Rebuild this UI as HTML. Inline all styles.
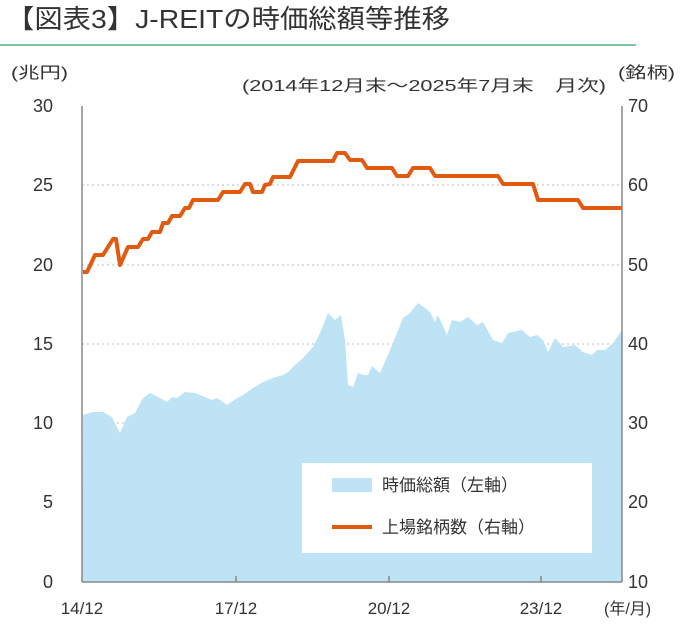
<!DOCTYPE html>
<html><head><meta charset="utf-8"><style>
body{margin:0;background:#fff;}
svg text{font-family:"Liberation Sans","Noto Sans CJK JP",sans-serif;fill:#333;}
</style></head><body>
<svg width="680" height="638" xmlns="http://www.w3.org/2000/svg">
<text x="6" y="28" font-size="26" fill="#222" textLength="444" lengthAdjust="spacingAndGlyphs">【図表3】J-REITの時価総額等推移</text>
<line x1="0" y1="45" x2="636" y2="45" stroke="#7dc3a0" stroke-width="2"/>
<text x="11" y="78" font-size="16" textLength="57" lengthAdjust="spacingAndGlyphs">(兆円)</text>
<text x="618" y="78" font-size="16" textLength="57" lengthAdjust="spacingAndGlyphs">(銘柄)</text>
<text x="242" y="91" font-size="16" textLength="364" lengthAdjust="spacingAndGlyphs">(2014年12月末～2025年7月末　月次)</text>
<g stroke="#bbb" stroke-dasharray="2,3" stroke-width="1">
<line x1="82" y1="185" x2="622" y2="185"/><line x1="82" y1="265" x2="622" y2="265"/>
<line x1="82" y1="344" x2="622" y2="344"/><line x1="82" y1="423" x2="622" y2="423"/>
<line x1="82" y1="502" x2="622" y2="502"/>
</g>
<polygon fill="#bde3f5" points="82,582 83,415 93,412 103,412 112,417 120,433 127,417 135,413 143,398 150,393 160,398 167,402 172,397 177,398 185,392 195,393 205,397 212,400 217,398 227,405 237,398 243,395 253,388 263,382 273,378 283,375 288,372 293,367 303,358 313,347 320,333 328,313 335,320 341,315 345,340 348,385 353,387 358,373 363,375 368,375 372,366 380,373 390,350 403,318 410,313 418,303 425,308 430,312 435,322 438,315 447,335 452,320 460,322 468,317 477,325 483,322 493,340 502,343 508,333 522,330 530,337 537,335 543,340 548,352 555,338 563,347 575,345 583,352 592,355 597,350 605,350 613,343 620,333 622,330 622,582"/>
<polyline fill="none" stroke="#e05a10" stroke-width="4" stroke-linejoin="round" points="83,272 87,272 95,255 103,255 113,239 116,239 120,265 128,247 138,247 143,239 148,239 152,232 160,232 163,223 168,223 172,216 180,216 185,208 189,208 193,200 218,200 223,192 240,192 245,184 250,184 253,192 262,192 265,185 270,184 273,177 290,177 298,161 333,161 337,153 345,153 350,160 362,160 367,168 392,168 397,176 408,176 413,168 430,168 435,176 498,176 503,184 533,184 538,200 578,200 583,208 622,208"/>
<g stroke="#888" stroke-width="1.5" fill="none">
<line x1="82" y1="106" x2="82" y2="582"/><line x1="622" y1="106" x2="622" y2="582"/>
<line x1="82" y1="582" x2="622" y2="582"/>
<line x1="236" y1="582" x2="236" y2="576"/><line x1="389" y1="582" x2="389" y2="576"/><line x1="541" y1="582" x2="541" y2="576"/>
</g>
<rect x="302" y="463" width="290" height="90" fill="#fff"/>
<rect x="332" y="478" width="40" height="14" fill="#bde3f5"/>
<text x="382" y="491" font-size="17">時価総額（左軸）</text>
<line x1="332" y1="527" x2="372" y2="527" stroke="#e05a10" stroke-width="4"/>
<text x="382" y="533" font-size="17">上場銘柄数（右軸）</text>
<g font-size="18" text-anchor="end">
<text x="53" y="112">30</text><text x="53" y="191">25</text><text x="53" y="271">20</text>
<text x="53" y="350">15</text><text x="53" y="429">10</text><text x="53" y="508">5</text><text x="53" y="588">0</text>
</g>
<g font-size="18">
<text x="628" y="112">70</text><text x="628" y="191">60</text><text x="628" y="271">50</text>
<text x="628" y="350">40</text><text x="628" y="429">30</text><text x="628" y="508">20</text><text x="628" y="588">10</text>
</g>
<g font-size="17" text-anchor="middle">
<text x="82" y="614">14/12</text><text x="236" y="614">17/12</text><text x="389" y="614">20/12</text><text x="541" y="614">23/12</text>
</g>
<text x="604" y="614" font-size="16">(年/月)</text>
</svg>
</body></html>
